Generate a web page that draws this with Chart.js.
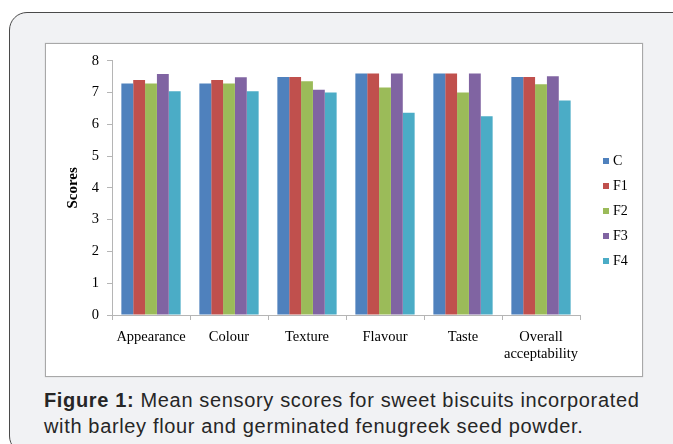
<!DOCTYPE html>
<html>
<head>
<meta charset="utf-8">
<script src="https://cdn.jsdelivr.net/npm/chart.js@4.4.0/dist/chart.umd.min.js"></script>
<style>
  body { margin: 0; width: 673px; height: 444px; background: #fff; overflow: hidden; position: relative; }
  #panel { position: absolute; left: 9px; top: 12px; width: 700px; height: 440px; background: #f1f2f4;
           border: 1.5px solid #4a4a4a; border-radius: 18px; }
  #box { position: absolute; left: 45px; top: 43px; width: 596px; height: 332px; background: #fff;
         border: 1px solid #a8a8a8; box-shadow: 0 0 1px #bbb; }
  #caption { position: absolute; left: 44px; top: 387px; font: 20px "Liberation Sans", Arial, sans-serif;
             letter-spacing: 0.65px; line-height: 26px; color: #262626; white-space: nowrap; }
</style>
</head>
<body>
<div id="panel"></div>
<div id="box"><canvas id="myChart" width="596" height="332"></canvas></div>
<div id="caption"><b>Figure 1:</b> Mean sensory scores for sweet biscuits incorporated<br>with barley flour and germinated fenugreek seed powder.</div>
<script>
const categories = ['Appearance', 'Colour', 'Texture', 'Flavour', 'Taste', ['Overall', 'acceptability']];
const seriesNames = ['C', 'F1', 'F2', 'F3', 'F4'];
const seriesColors = ['#4f81bd', '#c0504d', '#9bbb59', '#8064a2', '#4bacc6'];
const valuesC  = [7.28, 7.28, 7.49, 7.60, 7.60, 7.49];
const valuesF1 = [7.39, 7.39, 7.49, 7.60, 7.60, 7.49];
const valuesF2 = [7.28, 7.28, 7.35, 7.16, 7.00, 7.26];
const valuesF3 = [7.58, 7.48, 7.09, 7.60, 7.60, 7.51];
const valuesF4 = [7.04, 7.04, 7.00, 6.36, 6.25, 6.75];
const yTicks = [0, 1, 2, 3, 4, 5, 6, 7, 8];

const serif = '"Liberation Serif", "Times New Roman", serif';
const axisGray = '#b5b5b5';

// legend drawn on the right side, items stacked
const sideLegend = {
  id: 'sideLegend',
  afterDraw(chart) {
    const ctx = chart.ctx;
    const x = chart.chartArea.right + 23;
    ctx.save();
    ctx.font = '14px ' + serif;
    ctx.textBaseline = 'middle';
    chart.data.datasets.forEach((ds, i) => {
      const y = 117 + i * 25;
      ctx.fillStyle = ds.backgroundColor;
      ctx.fillRect(x, y - 3, 6, 6);
      ctx.fillStyle = '#000';
      ctx.fillText(ds.label, x + 10, y);
    });
    ctx.restore();
  }
};

const allValues = [valuesC, valuesF1, valuesF2, valuesF3, valuesF4];

const ctx = document.getElementById('myChart').getContext('2d');
const chart = new Chart(ctx, {
  type: 'bar',
  data: {
    labels: categories,
    datasets: seriesNames.map((name, i) => ({
      label: name,
      data: allValues[i],
      backgroundColor: seriesColors[i],
      borderWidth: 0,
      categoryPercentage: 0.76,
      barPercentage: 1.0
    }))
  },
  options: {
    responsive: false,
    animation: false,
    layout: { padding: { top: 15, right: 62, bottom: 0, left: 0 } },
    plugins: {
      legend: { display: false },
      tooltip: { enabled: false }
    },
    scales: {
      x: {
        grid: { display: true, drawOnChartArea: false, tickLength: 5, color: axisGray, offset: true },
        border: { color: axisGray },
        ticks: { color: '#000', font: { family: serif, size: 14.5 }, padding: 8, maxRotation: 0 },
        afterFit(scale) { scale.height = 61; }
      },
      y: {
        min: 0,
        max: 8,
        afterBuildTicks(scale) { scale.ticks = yTicks.map(v => ({ value: v })); },
        grid: { display: true, drawOnChartArea: false, tickLength: 5, color: axisGray },
        border: { color: axisGray },
        ticks: { color: '#000', font: { family: serif, size: 14.5 }, padding: 8 },
        title: { display: true, text: 'Scores', color: '#000', font: { family: serif, size: 15, weight: 'bold' },
                 padding: { top: 18, bottom: 0 } },
        afterFit(scale) { scale.width = 66; }
      }
    }
  },
  plugins: [sideLegend]
});
</script>
</body>
</html>
